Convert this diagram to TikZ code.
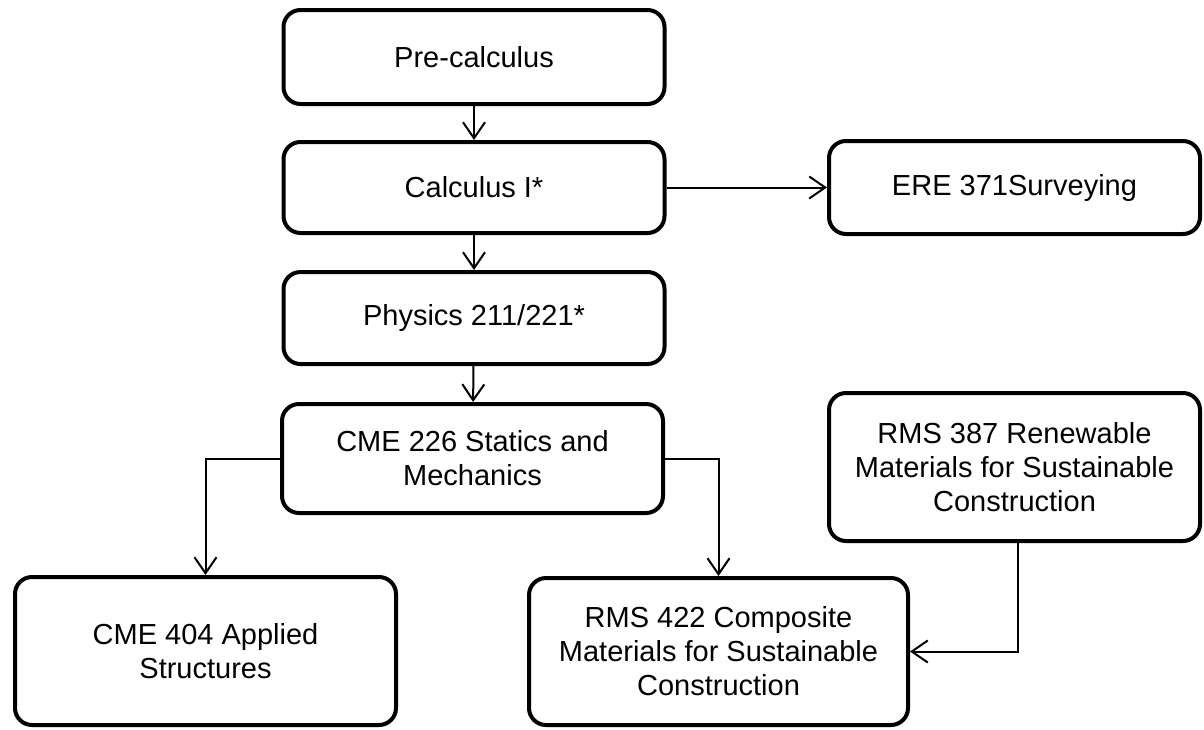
\documentclass[tikz,border=0pt]{standalone}
\usepackage{fontspec}
\setmainfont{Liberation Sans}
\usetikzlibrary{arrows.meta}
\begin{document}
\begin{tikzpicture}[x=1pt,y=-1pt,
    course/.style={rectangle,draw,line width=4pt,rounded corners=17pt,align=center,
        inner sep=0pt,minimum width=381pt,font=\fontsize{29}{34}\selectfont},
    req/.style={line width=2pt,-{Straight Barb[length=16pt,width=22pt]}}]
        \useasboundingbox (0,0) rectangle (1204,729);
        \node[course,minimum height=94pt] (pre) at (474,57) {Pre-calculus};
        \node[course,minimum height=91pt] (calc) at (474,187.5) {Calculus I*};
        \node[course,minimum height=92pt] (phys) at (474,318) {Physics 211/221*};
        \node[course,minimum height=93pt,minimum width=371pt] (ere) at (1014.5,187.5) {ERE 371Surveying};
        \node[course,minimum height=109pt] (stat) at (472.5,458.5) {CME 226 Statics and\\Mechanics};
        \node[course,minimum height=148pt,minimum width=371pt] (renew) at (1014.5,467) {RMS 387 Renewable\\Materials for Sustainable\\Construction};
        \node[course,minimum height=148pt] (appl) at (205.5,651) {CME 404 Applied\\Structures};
        \node[course,minimum height=147pt,minimum width=379pt] (comp) at (718.5,651.5) {RMS 422 Composite\\Materials for Sustainable\\Construction};
        \draw[req] (pre) -- (calc);
        \draw[req] (calc) -- (phys);
        \draw[req] (phys) -- (stat);
        \draw[req] (calc) -- (ere);
        \draw[req] (stat.west) -| (appl.north);
        \draw[req] (stat.east) -| (comp.north);
        \draw[req] ([xshift=3pt]renew.south) |- (comp.east);
    \end{tikzpicture}
\end{document}
